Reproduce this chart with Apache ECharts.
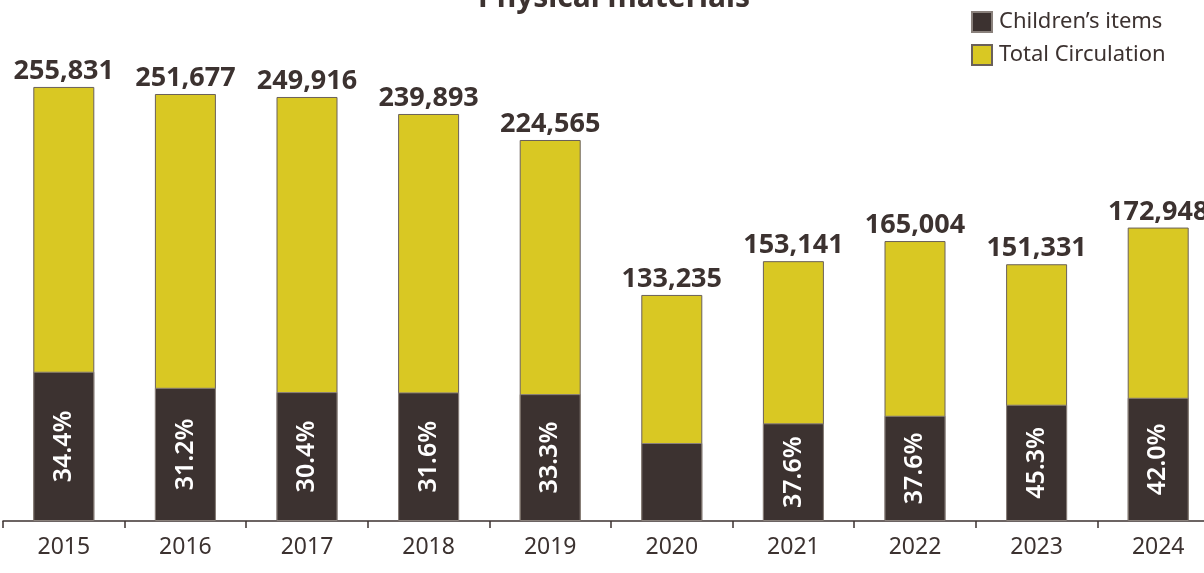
<!DOCTYPE html>
<html>
<head>
<meta charset="utf-8">
<script src="https://cdn.jsdelivr.net/npm/echarts@6/dist/echarts.min.js"></script>
<style>html,body{margin:0;padding:0;background:#fff;}#c{width:1204px;height:573px;}</style>
</head>
<body>
<div id="c"></div>
<script>
const years = ['2015','2016','2017','2018','2019','2020','2021','2022','2023','2024'];
const totalCirculation = [255831, 251677, 249916, 239893, 224565, 133235, 153141, 165004, 151331, 172948];
const childrensItems = [88006, 78523, 75974, 75806, 74780, 45980, 57581, 62042, 68553, 72638];
const childrensShare = ['34.4%', '31.2%', '30.4%', '31.6%', '33.3%', '', '37.6%', '37.6%', '45.3%', '42.0%'];

const DARK = '#3c3230';
const YELLOW = '#d9c823';
const FONT = '"Noto Sans", "Open Sans", sans-serif';

const chart = echarts.init(document.getElementById('c'));
chart.setOption({
  animation: false,
  backgroundColor: '#ffffff',
  textStyle: { fontFamily: FONT },
  title: {
    text: 'Physical materials',
    left: 473,
    top: -22,
    textStyle: { fontFamily: FONT, fontSize: 30, fontWeight: 'bold', color: DARK }
  },
  legend: {
    orient: 'vertical',
    left: 966,
    top: 6,
    itemWidth: 20,
    itemHeight: 20,
    itemGap: 11,
    icon: 'rect',
    data: ['Children’s items', 'Total Circulation'],
    textStyle: { fontFamily: FONT, fontSize: 22, color: DARK, padding: [0, 0, 0, 2] }
  },
  grid: { left: 3, top: 12, width: 1216, height: 509, containLabel: false, outerBoundsMode: 'none' },
  xAxis: {
    type: 'category',
    data: years,
    axisLine: { lineStyle: { color: DARK, width: 1.5 } },
    axisTick: { show: true, length: 7, lineStyle: { color: DARK, width: 1.5 } },
    axisLabel: { fontFamily: FONT, fontSize: 23, color: DARK, margin: 15 }
  },
  yAxis: {
    type: 'value',
    min: 0,
    max: 300000,
    show: false,
    splitLine: { show: false }
  },
  series: [
    {
      name: 'Total Circulation',
      type: 'bar',
      data: totalCirculation,
      barWidth: 61,
      barGap: '-100%',
      itemStyle: { color: YELLOW, borderColor: '#6a605a', borderWidth: 1 },
      label: {
        show: true,
        position: 'top',
        distance: 2,
        fontFamily: FONT,
        fontSize: 27,
        fontWeight: 'bold',
        color: DARK,
        formatter: p => p.value.toLocaleString('en-US')
      },
      z: 2
    },
    {
      name: 'Children’s items',
      type: 'bar',
      data: childrensItems,
      barWidth: 61,
      barGap: '-100%',
      itemStyle: { color: DARK, borderColor: '#8a817c', borderWidth: 1 },
      label: {
        show: true,
        position: 'inside',
        rotate: 90,
        fontFamily: FONT,
        fontSize: 25,
        fontWeight: 600,
        color: '#ffffff',
        formatter: p => childrensShare[p.dataIndex]
      },
      z: 3
    }
  ]
});
</script>
</body>
</html>
